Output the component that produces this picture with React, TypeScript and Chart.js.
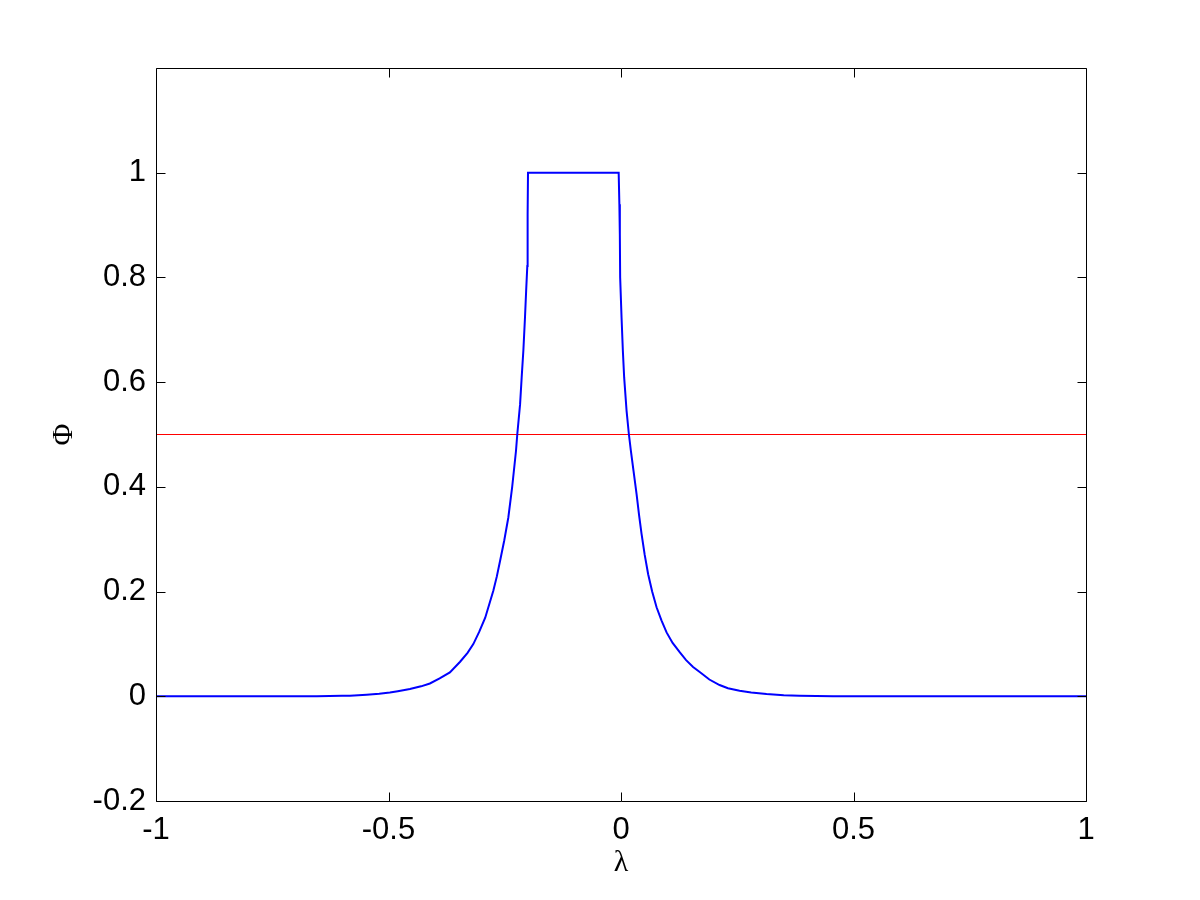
import React, { useEffect, useRef } from "react";
import { Chart, registerables } from "chart.js";

Chart.register(...registerables);

// Blue curve: Φ(λ)
const lambdaBlue: number[] = [
  -1.0, -0.80, -0.70, -0.654, -0.60, -0.583, -0.547, -0.52, -0.497, -0.48,
  -0.454, -0.43, -0.411, -0.39, -0.368, -0.346, -0.33, -0.3176, -0.305, -0.292,
  -0.2746, -0.267, -0.260, -0.251, -0.2423, -0.234, -0.2258, -0.223, -0.217,
  -0.2136, -0.210, -0.2065, -0.204, -0.2015, -0.2008, -0.200,
  -0.005, -0.0035, -0.0025, -0.0018, 0.0012, 0.004, 0.0068, 0.012, 0.0169,
  0.0212, 0.027, 0.0335, 0.039, 0.0442, 0.051, 0.0584, 0.067, 0.0765, 0.087,
  0.098, 0.111, 0.1266, 0.14, 0.155, 0.17, 0.19, 0.212, 0.23,
  0.255, 0.28, 0.313, 0.35, 0.384, 0.456, 0.60, 0.80, 1.0,
];
const phiBlue: number[] = [
  0, 0, 0, 0, 0.0008, 0.001, 0.003, 0.005, 0.0073, 0.0098,
  0.0138, 0.019, 0.0244, 0.034, 0.0455, 0.066, 0.083, 0.0997, 0.123, 0.15,
  0.2015, 0.229, 0.259, 0.298, 0.3415, 0.40, 0.469, 0.501, 0.558,
  0.609, 0.66, 0.723, 0.774, 0.822, 0.92, 1.0,
  1.0, 0.94, 0.883, 0.8, 0.723, 0.66, 0.609, 0.545, 0.501,
  0.469, 0.43, 0.386, 0.345, 0.31, 0.27, 0.233, 0.20, 0.17, 0.145,
  0.122, 0.102, 0.0837, 0.069, 0.056, 0.046, 0.032, 0.0215, 0.0155,
  0.0105, 0.0072, 0.0042, 0.002, 0.001, 0, 0, 0, 0,
];

// Red threshold line
const lambdaRed: number[] = [-1, 1];
const phiRed: number[] = [0.5, 0.5];

// Axes
const xTicks: number[] = [-1, -0.5, 0, 0.5, 1];
const yTicks: number[] = [-0.2, 0, 0.2, 0.4, 0.6, 0.8, 1.0];
const xLabel = "λ";
const yLabel = "Φ";

const fmt = (v: number) => {
  const r = Math.round(v * 10) / 10;
  return String(r);
};

const framePlugin = {
  id: "matlabFrame",
  afterDatasetsDraw(chart: any) {
    const { ctx, chartArea } = chart;
    const xs = chart.scales.x;
    const ys = chart.scales.y;
    const L = Math.round(chartArea.left) + 0.5;
    const R = Math.round(chartArea.right) + 0.5;
    const T = Math.round(chartArea.top) + 0.5;
    const B = Math.round(chartArea.bottom) + 0.5;
    const tl = 9;
    ctx.save();
    ctx.strokeStyle = "#000";
    ctx.lineWidth = 1;
    ctx.beginPath();
    ctx.rect(L, T, R - L, B - T);
    for (const v of xTicks) {
      const px = Math.round(xs.getPixelForValue(v)) + 0.5;
      ctx.moveTo(px, B);
      ctx.lineTo(px, B - tl);
      ctx.moveTo(px, T);
      ctx.lineTo(px, T + tl);
    }
    for (const v of yTicks) {
      const py = Math.round(ys.getPixelForValue(v)) + 0.5;
      ctx.moveTo(L, py);
      ctx.lineTo(L + tl, py);
      ctx.moveTo(R, py);
      ctx.lineTo(R - tl, py);
    }
    ctx.stroke();

    // axis titles
    ctx.fillStyle = "#000";
    ctx.font = '30px "Liberation Serif", "DejaVu Serif", serif';
    ctx.textAlign = "center";
    ctx.textBaseline = "middle";
    ctx.fillText(xLabel, (chartArea.left + chartArea.right) / 2, 863);
    ctx.save();
    ctx.translate(64, (chartArea.top + chartArea.bottom) / 2);
    ctx.rotate(-Math.PI / 2);
    ctx.fillText(yLabel, 0, 0);
    ctx.restore();
    ctx.restore();
  },
};

export default function App() {
  const ref = useRef<HTMLCanvasElement | null>(null);

  useEffect(() => {
    if (!ref.current) return;
    const blue = lambdaBlue.map((x, i) => ({ x, y: phiBlue[i] }));
    const red = lambdaRed.map((x, i) => ({ x, y: phiRed[i] }));
    const tickFont = { family: '"Liberation Sans", Arial, sans-serif', size: 31 };
    const chart = new Chart(ref.current, {
      type: "scatter",
      data: {
        datasets: [
          {
            data: blue,
            showLine: true,
            borderColor: "#0000ff",
            borderWidth: 2,
            pointRadius: 0,
            tension: 0,
          },
          {
            data: red,
            showLine: true,
            borderColor: "#ff0000",
            borderWidth: 1,
            pointRadius: 0,
          },
        ],
      },
      options: {
        responsive: false,
        animation: false,
        devicePixelRatio: 1,
        layout: { padding: { left: 0, top: 68, right: 114, bottom: 0 } },
        plugins: {
          legend: { display: false },
          tooltip: { enabled: false },
        },
        scales: {
          x: {
            type: "linear",
            min: -1,
            max: 1,
            afterFit: (s: any) => {
              s.height = 99;
            },
            afterBuildTicks: (s: any) => {
              s.ticks = xTicks.map((v) => ({ value: v }));
            },
            grid: { display: false, drawTicks: false },
            border: { display: false },
            ticks: {
              font: tickFont,
              color: "#000",
              padding: 11,
              maxRotation: 0,
              autoSkip: false,
              callback: (v: any) => fmt(Number(v)),
            },
          },
          y: {
            type: "linear",
            min: -0.2,
            max: 1.2,
            afterFit: (s: any) => {
              s.width = 156;
            },
            afterBuildTicks: (s: any) => {
              s.ticks = yTicks.map((v) => ({ value: v }));
            },
            grid: { display: false, drawTicks: false },
            border: { display: false },
            ticks: {
              font: tickFont,
              color: "#000",
              padding: 10,
              autoSkip: false,
              callback: (v: any) => fmt(Number(v)),
            },
          },
        },
      },
      plugins: [framePlugin],
    });
    return () => chart.destroy();
  }, []);

  return (
    <div style={{ position: "absolute", left: 0, top: 0, width: 1200, height: 900, background: "#fff" }}>
      <canvas ref={ref} width={1200} height={900} />
    </div>
  );
}
